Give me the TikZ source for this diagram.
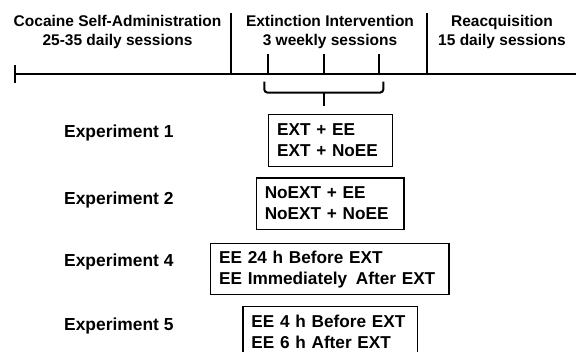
\documentclass[tikz,border=0pt]{standalone}
\usepackage{fontspec}
\setmainfont{Liberation Sans}
\tikzset{
  hdr/.style={align=center,anchor=base,inner sep=0pt,font=\fontsize{15.5}{19}\selectfont\bfseries},
  expt/.style={anchor=base west,inner sep=0pt,font=\fontsize{17.4}{21}\selectfont\bfseries},
  grp/.style={draw,line width=1.2pt,anchor=north west,align=left,text width=#1,
    inner xsep=8.5pt,inner ysep=0pt,minimum height=51.5pt,font=\fontsize{17.2}{21}\selectfont\bfseries},
  tline/.style={line width=2pt}
}
\begin{document}
\begin{tikzpicture}[x=1pt,y=-1pt]
\path[use as bounding box] (0,0) rectangle (576,351);
\clip (0,0) rectangle (576,351);
% phases
\node[hdr] (sa) at (117.5,45.7) {Cocaine Self-Administration\\25-35 daily sessions};
\node[hdr] (ext) at (330,45) {Extinction Intervention\\3 weekly sessions};
\node[hdr] (reacq) at (502,45) {Reacquisition\\15 daily sessions};
% timeline
\draw[line width=2.4pt] (15,74) -- (576,74);
\draw[tline] (15,65) -- (15,83);
\draw[tline] (231,13) -- (231,74) (426.7,13) -- (426.7,74);
\draw[tline] (268.3,54) -- (268.3,74) (324,54) -- (324,74) (379.3,54) -- (379.3,74);
% brace
\coordinate (bl) at (264.3,81.5);
\coordinate (bm) at (324,92.5);
\coordinate (br) at (383.3,81.5);
\coordinate (btip) at (324,105.5);
\draw[tline,rounded corners=3pt] (bl) |- (bm) -| (br);
\draw[tline] (bm) -- (btip);
% experiments
\node[expt] (exp1) at (64,137.3) {Experiment 1};
\node[expt] (exp2) at (64,204) {Experiment 2};
\node[expt] (exp4) at (64,266) {Experiment 4};
\node[expt] (exp5) at (64,330) {Experiment 5};
\node[grp=107pt] (grp1) at (268,114) {EXT + EE\\EXT + NoEE};
\node[grp=130.6pt] (grp2) at (255.7,177.3) {NoEXT + EE\\NoEXT + NoEE};
\node[grp=221.3pt] (grp4) at (210,242.7) {EE 24 h Before EXT\\EE Immediately\hspace{3pt} After EXT};
\node[grp=157.4pt] (grp5) at (242.3,305.7) {EE 4 h Before EXT\\EE 6 h After EXT};
\end{tikzpicture}
\end{document}
